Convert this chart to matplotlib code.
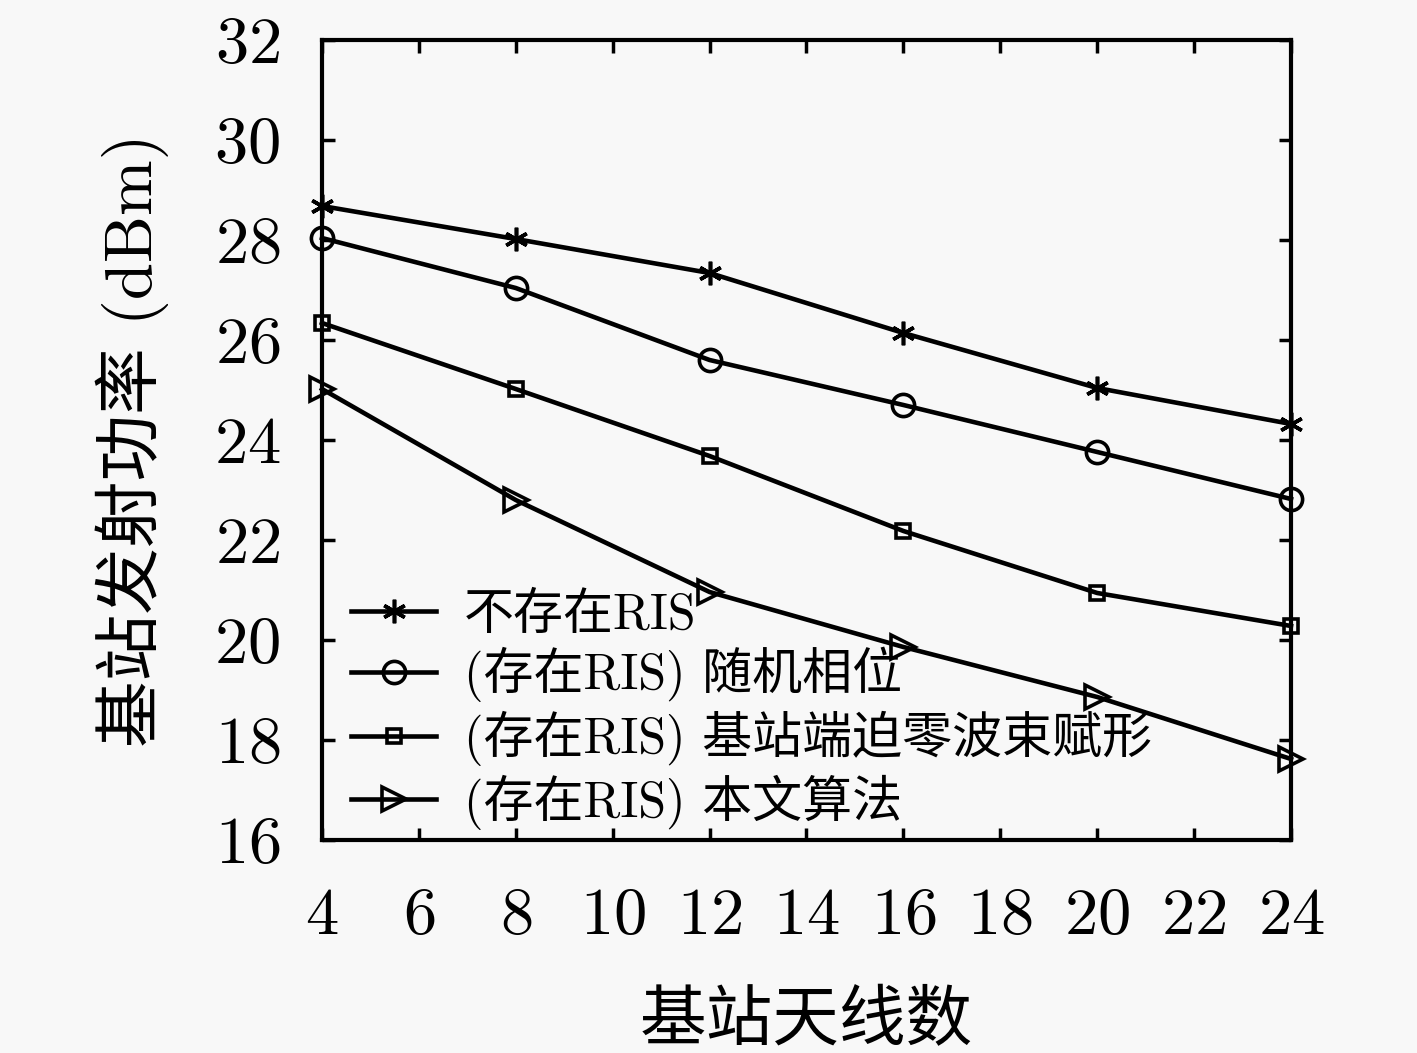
import numpy as np
import matplotlib
matplotlib.use('Agg')
import matplotlib.pyplot as plt

plt.rcParams['font.family'] = ['cmr10', 'Noto Sans CJK SC']
plt.rcParams['axes.unicode_minus'] = False
plt.rcParams['axes.formatter.use_mathtext'] = True

# antenna count at the base station
antennas = [4, 8, 12, 16, 20, 24]

# transmit power (dBm) per scheme
no_ris = [28.68, 28.02, 27.34, 26.14, 25.04, 24.32]
random_phase = [28.04, 27.04, 25.6, 24.7, 23.76, 22.82]
bs_zf = [26.34, 25.02, 23.68, 22.18, 20.94, 20.28]
proposed = [25.02, 22.8, 20.96, 19.86, 18.86, 17.62]

labels = ['不存在RIS', '(存在RIS) 随机相位',
          '(存在RIS) 基站端迫零波束赋形', '(存在RIS) 本文算法']

bg = '#f8f8f8'
fig = plt.figure(figsize=(14.17, 10.53), dpi=100, facecolor=bg)
ax = fig.add_axes([0.2272, 0.2023, 0.6839, 0.7597], facecolor=bg)

lw = 3.3
common = dict(color='k', lw=lw, mew=2.6, clip_on=False, zorder=3)
ax.plot(antennas, no_ris, marker=(6, 2, 0), ms=17, label=labels[0], **common)
ax.plot(antennas, random_phase, marker='o', ms=16, mfc='none', label=labels[1], **common)
ax.plot(antennas, bs_zf, marker='s', ms=10, mfc='none', label=labels[2], **common)
ax.plot(antennas, proposed, marker='>', ms=17, mfc='none', label=labels[3], **common)

ax.set_xlim(4, 24)
ax.set_ylim(16, 32)
ax.set_xticks(np.arange(4, 25, 2))
ax.set_yticks(np.arange(16, 33, 2))

for s in ax.spines.values():
    s.set_linewidth(3)
    s.set_zorder(2)
ax.tick_params(direction='in', length=9, width=2.5, top=True, right=True,
               labelsize=48)
ax.tick_params(axis='y', pad=30)
ax.tick_params(axis='x', pad=34)

ax.set_xlabel('基站天线数', fontsize=48, labelpad=32)
ax.set_ylabel('基站发射功率 (dBm)', fontsize=48, labelpad=32)

ax.legend(loc='lower left', bbox_to_anchor=(-0.006, -0.031), frameon=False,
          fontsize=36, handlelength=1.7, handletextpad=0.55,
          labelspacing=0.17, borderaxespad=0.3)

fig.savefig('out.png', dpi=100, facecolor=bg)
